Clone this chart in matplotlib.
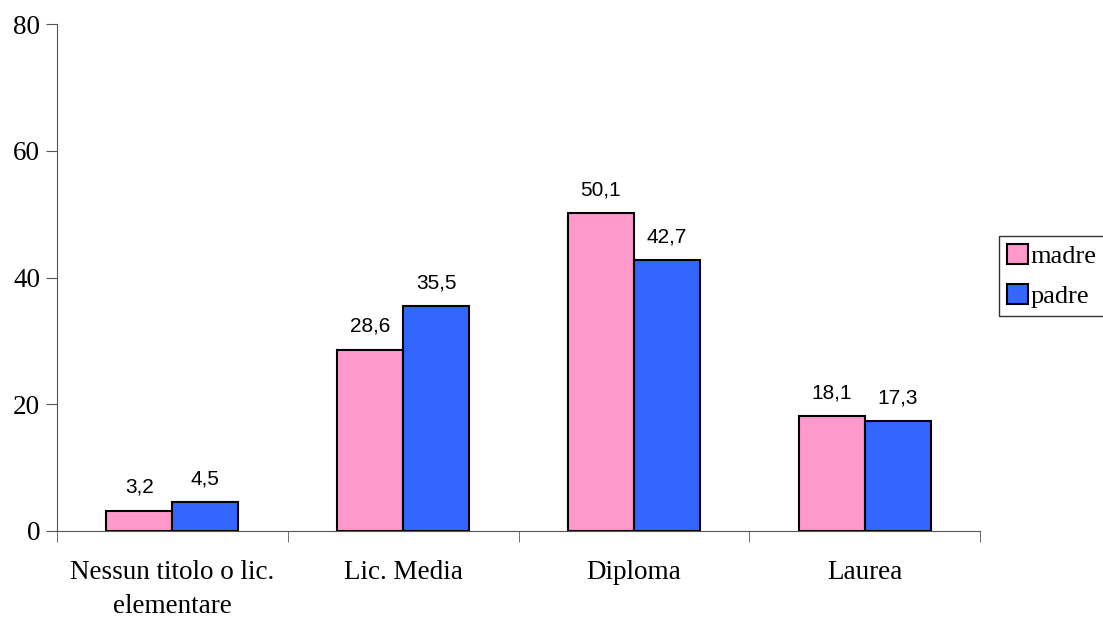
import matplotlib.pyplot as plt
import numpy as np

categories = ["Nessun titolo o lic.\nelementare", "Lic. Media", "Diploma", "Laurea"]
madre = [3.2, 28.6, 50.1, 18.1]
padre = [4.5, 35.5, 42.7, 17.3]
yticks = [0, 20, 40, 60, 80]

fig = plt.figure(figsize=(11.03, 6.17), dpi=100)
ax = fig.add_axes([57/1103, 1-531/617, (980-57)/1103, (531-24)/617])

x = np.arange(len(categories))
w = 0.286
b1 = ax.bar(x - w/2, madre, w, color="#ff99cc", edgecolor="black", linewidth=1.5, label="madre")
b2 = ax.bar(x + w/2, padre, w, color="#3366ff", edgecolor="black", linewidth=1.5, label="padre")

for bars, vals in ((b1, madre), (b2, padre)):
    for r, v in zip(bars, vals):
        ax.annotate(("%.1f" % v).replace(".", ","), (r.get_x() + r.get_width()/2, v),
                    xytext=(0, 10), textcoords="offset points", ha="center", va="bottom",
                    fontsize=15, family="Liberation Sans")

ax.set_xlim(-0.5, 3.5)
ax.set_ylim(0, 80)
ax.set_yticks(yticks)
ax.set_yticklabels([str(t) for t in yticks], family="Liberation Serif", fontsize=19.5)
ax.set_xticks(x)
ax.set_xticklabels(categories, family="Liberation Serif", fontsize=19.5, linespacing=1.45)
ax.tick_params(axis="x", length=0, pad=21)
ax.set_xticks(np.arange(-0.5, 4, 1), minor=True)
ax.tick_params(axis="x", which="minor", length=8, direction="out", color="#555555")
ax.tick_params(axis="y", length=8, direction="out", color="#555555", pad=4)
for s in ("top", "right"):
    ax.spines[s].set_visible(False)
for s in ("left", "bottom"):
    ax.spines[s].set_color("#555555")

leg = fig.legend(loc="upper left", bbox_to_anchor=(999/1103, 1-236/617), frameon=True,
                 fancybox=False, edgecolor="black", handlelength=0.78, handleheight=0.78,
                 handletextpad=0.1, borderpad=0.3, borderaxespad=0, labelspacing=0.62,
                 prop={"family": "Liberation Serif", "size": 19})
leg.get_frame().set_linewidth(1.0)

fig.savefig("out.png", dpi=100)
